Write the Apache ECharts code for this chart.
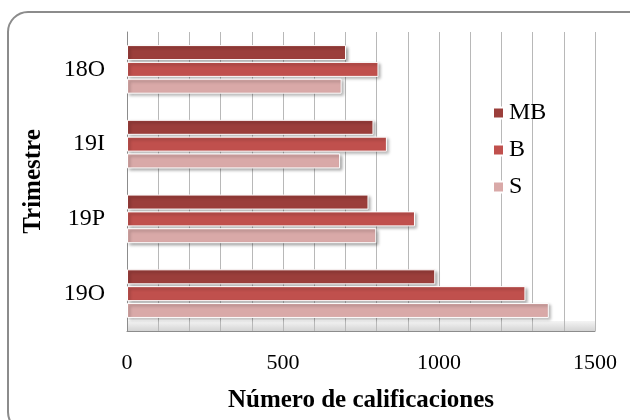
<!DOCTYPE html>
<html>
<head>
<meta charset="utf-8">
<script src="https://cdn.jsdelivr.net/npm/echarts@6/dist/echarts.min.js"></script>
<style>
html,body{margin:0;padding:0;background:#fff;}
#chart{width:630px;height:420px;}
</style>
</head>
<body>
<div id="chart"></div>
<script>
var categories = ['18O', '19I', '19P', '19O'];
var seriesNames = ['MB', 'B', 'S'];
var valuesMB = [702, 790, 774, 988];
var valuesB = [806, 833, 923, 1277];
var valuesS = [688, 683, 799, 1352];
var xTickLabels = [0, 500, 1000, 1500];

var colors = ['#9b3e3b', '#c0504d', '#d9a9a8'];
var font = '"Liberation Serif", "DejaVu Serif", serif';

var chart = echarts.init(document.getElementById('chart'), null, {renderer: 'canvas'});

function mkSeries(name, data, color) {
  return {
    name: name,
    type: 'bar',
    data: data,
    barWidth: 15,
    barGap: '12%',
    itemStyle: {
      color: color,
      borderColor: '#ffffff',
      borderWidth: 1,
      shadowColor: 'rgba(0,0,0,0.35)',
      shadowBlur: 3,
      shadowOffsetX: 2,
      shadowOffsetY: 2
    },
    emphasis: {disabled: true},
    animation: false
  };
}

var option = {
  animation: false,
  backgroundColor: '#ffffff',
  textStyle: {fontFamily: font},
  graphic: [{
    id: 'frame',
    type: 'rect',
    shape: {x: 8, y: 12, width: 640, height: 420, r: 20},
    style: {fill: 'none', stroke: '#8c8c8c', lineWidth: 2},
    z: -1
  }],
  grid: {left: 127, right: 35, top: 32, bottom: 89, containLabel: false},
  legend: {
    orient: 'vertical',
    left: 487,
    top: 96,
    itemWidth: 11,
    itemHeight: 11,
    itemGap: 13,
    icon: 'rect',
    data: seriesNames,
    textStyle: {fontFamily: font, fontSize: 24, color: '#000', padding: [0, 0, 0, 0]}
  },
  xAxis: {
    type: 'value',
    min: 0,
    max: 1500,
    interval: 100,
    name: 'Número de calificaciones',
    nameLocation: 'middle',
    nameGap: 57,
    nameTextStyle: {fontFamily: font, fontSize: 25, fontWeight: 'bold', color: '#000'},
    axisLine: {show: true, lineStyle: {color: '#8c8c8c', width: 1}},
    axisTick: {show: false},
    splitLine: {show: true, lineStyle: {color: '#b8b8b8', width: 1}},
    axisLabel: {
      margin: 21,
      fontFamily: font,
      fontSize: 22,
      color: '#000',
      formatter: function (v) { return xTickLabels.indexOf(v) >= 0 ? String(v) : ''; }
    }
  },
  yAxis: {
    type: 'category',
    data: categories,
    inverse: true,
    name: 'Trimestre',
    nameLocation: 'middle',
    nameGap: 81,
    nameTextStyle: {fontFamily: font, fontSize: 25, fontWeight: 'bold', color: '#000'},
    axisLine: {show: true, lineStyle: {color: '#8c8c8c', width: 1}},
    axisTick: {show: false},
    axisLabel: {margin: 22, fontFamily: font, fontSize: 24, color: '#000'}
  },
  series: [
    mkSeries(seriesNames[0], valuesMB, colors[0]),
    mkSeries(seriesNames[1], valuesB, colors[1]),
    mkSeries(seriesNames[2], valuesS, colors[2])
  ]
};
chart.setOption(option);

// 3D-style floor band along the bottom of the plot, placed from the grid rect
var rect = chart.getModel().getComponent('grid').coordinateSystem.getRect();
chart.setOption({
  graphic: [{
    id: 'floor',
    type: 'rect',
    shape: {x: rect.x, y: rect.y + rect.height - 10, width: rect.width, height: 10},
    style: {
      fill: new echarts.graphic.LinearGradient(0, 0, 0, 1, [
        {offset: 0, color: '#f4f4f4'},
        {offset: 1, color: '#d4d4d4'}
      ])
    },
    z: -1,
    silent: true
  }]
});
</script>
</body>
</html>
